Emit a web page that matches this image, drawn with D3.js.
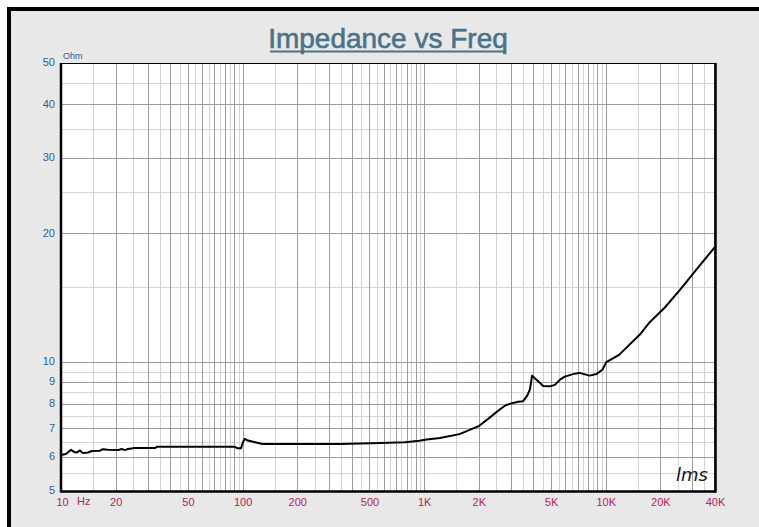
<!DOCTYPE html>
<html>
<head>
<meta charset="utf-8">
<script src="https://cdn.jsdelivr.net/npm/d3@7"></script>
<style>
  body { margin: 0; background: #fff; }
  svg { display: block; }
</style>
</head>
<body>
<svg id="canvas"></svg>
<script>
// impedance curve (Hz, Ohm)
let freqs = [10, 10.65, 11.35, 11.8, 12.25, 12.7, 13.2, 14.1, 14.8, 16.4, 17.0, 18.1, 20.6, 21.6, 22.5, 23.4, 25.5, 32.9, 33.7,
  90.6, 94, 98, 100.4, 103, 107, 117, 129, 344, 570, 785, 942, 1034, 1222, 1566, 2012, 2278, 2608, 2800, 2988, 3300, 3500, 3700, 3830, 3930,
  4100, 4340, 4510, 4930, 5250, 5600, 5960, 6750, 7190, 8140, 8900, 9590, 10080, 11850, 15430, 17480, 21110, 25440, 32920, 39810];
let ohms = [6.07, 6.1, 6.24, 6.17, 6.15, 6.22, 6.13, 6.15, 6.2, 6.21, 6.26, 6.24, 6.23, 6.27, 6.23, 6.27, 6.3, 6.3, 6.34,
  6.34, 6.29, 6.29, 6.5, 6.62, 6.56, 6.5, 6.44, 6.44, 6.47, 6.5, 6.55, 6.6, 6.65, 6.79, 7.1, 7.4, 7.75, 7.92, 8.0, 8.08, 8.1, 8.35, 8.65, 9.3,
  9.15, 8.95, 8.8, 8.78, 8.85, 9.1, 9.25, 9.4, 9.44, 9.3, 9.38, 9.6, 10.0, 10.4, 11.6, 12.4, 13.4, 14.7, 16.8, 18.55];

let xTicks = [10, 20, 50, 100, 200, 500, 1000, 2000, 5000, 10000, 20000, 40000];
let xTickLabels = ["10", "20", "50", "100", "200", "500", "1K", "2K", "5K", "10K", "20K", "40K"];
let yTicks = [5, 6, 7, 8, 9, 10, 20, 30, 40, 50];

let width = 759;
let height = 527;
let pLeft = 61, pRight = 715, pTop = 63, pBottom = 491;

let canvas = d3.select("#canvas").attr("width", width).attr("height", height);

// panel background and frame
canvas.append("rect").attr("x", 9).attr("y", 9).attr("width", width).attr("height", height)
  .attr("fill", "#e8e8e8").attr("stroke", "#000").attr("stroke-width", 4);

let xScale = d3.scaleLog().domain([10, 40000]).range([pLeft, pRight]);
let yScale = d3.scaleLog().domain([5, 50]).range([pBottom, pTop]);

canvas.append("rect").attr("x", pLeft).attr("y", pTop)
  .attr("width", pRight - pLeft).attr("height", pBottom - pTop).attr("fill", "#fff");

// grid: dark at 1..9 per decade, light at the halves
let xMajor = [], xMinor = [];
[10, 100, 1000, 10000].forEach((d) => {
  for (let k = 1; k <= 9; k++) {
    if (d * k <= 40000) xMajor.push(d * k);
    if (d * (k + 0.5) < 40000) xMinor.push(d * (k + 0.5));
  }
});
let yMajor = [5, 6, 7, 8, 9, 10, 20, 30, 40, 50];
let yMinor = [5.5, 6.5, 7.5, 8.5, 9.5, 15, 25, 35, 45];

let grid = canvas.append("g");
grid.selectAll(".xminor").data(xMinor).enter().append("line")
  .attr("x1", (d) => Math.round(xScale(d)) + 0.5).attr("x2", (d) => Math.round(xScale(d)) + 0.5)
  .attr("y1", pTop).attr("y2", pBottom).attr("stroke", "#d4d4d4");
grid.selectAll(".yminor").data(yMinor).enter().append("line")
  .attr("y1", (d) => Math.round(yScale(d)) + 0.5).attr("y2", (d) => Math.round(yScale(d)) + 0.5)
  .attr("x1", pLeft).attr("x2", pRight).attr("stroke", "#d4d4d4");
grid.selectAll(".xmajor").data(xMajor).enter().append("line")
  .attr("x1", (d) => Math.round(xScale(d)) + 0.5).attr("x2", (d) => Math.round(xScale(d)) + 0.5)
  .attr("y1", pTop).attr("y2", pBottom).attr("stroke", "#9c9c9c");
grid.selectAll(".ymajor").data(yMajor).enter().append("line")
  .attr("y1", (d) => Math.round(yScale(d)) + 0.5).attr("y2", (d) => Math.round(yScale(d)) + 0.5)
  .attr("x1", pLeft).attr("x2", pRight).attr("stroke", "#9c9c9c");

// curve
let line = d3.line().x((d, i) => xScale(freqs[i])).y((d) => yScale(d));
canvas.append("path").attr("d", line(ohms)).attr("fill", "none")
  .attr("stroke", "#000").attr("stroke-width", 2).attr("stroke-linejoin", "round");

// plot border
canvas.append("rect").attr("x", pLeft).attr("y", pTop + 0.5)
  .attr("width", pRight - pLeft).attr("height", pBottom - pTop)
  .attr("fill", "none").attr("stroke", "#000").attr("stroke-width", 1);
canvas.append("line").attr("x1", pLeft).attr("x2", pLeft).attr("y1", pTop).attr("y2", pBottom + 1.5)
  .attr("stroke", "#000").attr("stroke-width", 2.5);
canvas.append("line").attr("x1", pLeft).attr("x2", pRight + 1).attr("y1", pBottom + 0.5).attr("y2", pBottom + 0.5)
  .attr("stroke", "#000").attr("stroke-width", 2.5);
canvas.append("line").attr("x1", pRight + 0.5).attr("x2", pRight + 0.5).attr("y1", pTop).attr("y2", pBottom + 1.5)
  .attr("stroke", "#000").attr("stroke-width", 2.5);

// axes (labels only)
let xAxis = d3.axisBottom(xScale).tickValues(xTicks).tickSize(0)
  .tickFormat((d, i) => xTickLabels[i]);
let gx = canvas.append("g").attr("transform", "translate(0," + (pBottom + 5) + ")").call(xAxis);
gx.select(".domain").remove();
gx.selectAll("text").attr("fill", "#b5215a").attr("font-family", "Liberation Sans, Arial, sans-serif")
  .attr("font-size", 11).attr("dy", "0.6em");
gx.selectAll(".tick").filter((d) => d === 10).select("text").attr("dx", 1);

let yAxis = d3.axisLeft(yScale).tickValues(yTicks).tickSize(0).tickFormat(d3.format("d"));
let gy = canvas.append("g").attr("transform", "translate(" + (pLeft - 3) + ",0)").call(yAxis);
gy.select(".domain").remove();
gy.selectAll("text").attr("fill", "#2f5d99").attr("font-family", "Liberation Sans, Arial, sans-serif")
  .attr("font-size", 11).attr("dy", "0.25em");

canvas.append("text").attr("x", 77).attr("y", pBottom + 14).text("Hz")
  .attr("fill", "#b5215a").attr("font-family", "Liberation Sans, Arial, sans-serif").attr("font-size", 11);
canvas.append("text").attr("x", 63).attr("y", 59).text("Ohm")
  .attr("fill", "#2f5d99").attr("font-family", "Liberation Sans, Arial, sans-serif").attr("font-size", 9);

// title
canvas.append("text").attr("x", 388).attr("y", 48).attr("text-anchor", "middle")
  .text("Impedance vs Freq").attr("fill", "#4a7389")
  .attr("font-family", "Liberation Sans, Arial, sans-serif").attr("font-size", 28)
  .attr("stroke", "#4a7389").attr("stroke-width", 0.6);
canvas.append("line").attr("x1", 270).attr("x2", 506).attr("y1", 51.5).attr("y2", 51.5)
  .attr("stroke", "#4a7389").attr("stroke-width", 2);

// LMS mark
canvas.append("text").attr("x", 676).attr("y", 481).text("lms")
  .attr("font-family", "DejaVu Sans, sans-serif").attr("font-style", "italic")
  .attr("font-size", 18).attr("fill", "#111");
</script>
</body>
</html>
